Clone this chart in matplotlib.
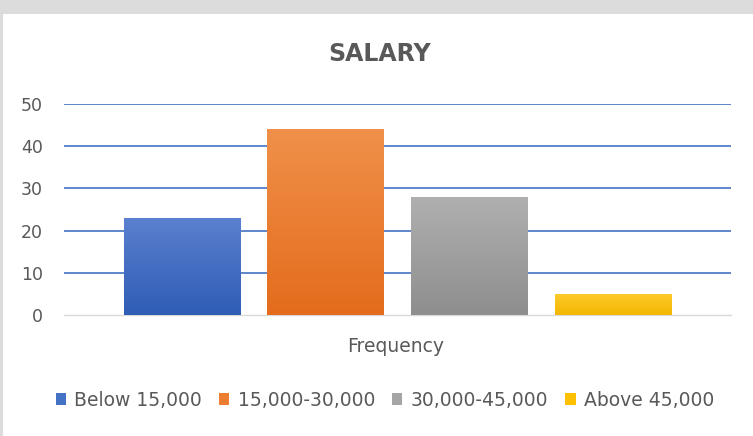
import numpy as np
import matplotlib
matplotlib.use("Agg")
import matplotlib.pyplot as plt
from matplotlib.patches import Patch, Rectangle
from matplotlib.colors import LinearSegmentedColormap

# data
categories = ["Below 15,000", "15,000-30,000", "30,000-45,000", "Above 45,000"]
values = [23, 44, 28, 5]
top_colors = ["#5B80CF", "#F0904A", "#B0B0B0", "#FFCB2E"]
bottom_colors = ["#2F5DB5", "#E46C1C", "#8E8E8E", "#F2B700"]
legend_colors = ["#4472C4", "#ED7D31", "#A5A5A5", "#FFC000"]
yticks = [0, 10, 20, 30, 40, 50]

plt.rcParams["font.family"] = ["DejaVu Sans"]

fig = plt.figure(figsize=(7.53, 4.36), dpi=100)
fig.patch.set_facecolor("white")

# gray frame bits (top band, left strip) like the screenshot
fig.patches.append(Rectangle((0, 1 - 14 / 436), 1, 14 / 436, transform=fig.transFigure,
                             facecolor="#DCDCDC", edgecolor="none", zorder=0))
fig.patches.append(Rectangle((0, 0), 3 / 753, 1, transform=fig.transFigure,
                             facecolor="#DCDCDC", edgecolor="none", zorder=0))

ax = fig.add_axes([64 / 753, 1 - 315 / 436, (731 - 64) / 753, (315 - 104) / 436])

x = np.arange(len(values))
width = 0.81
bars = ax.bar(x, values, width=width, color=legend_colors, zorder=3)

# vertical gradient fill on each bar
grad = np.linspace(0, 1, 256).reshape(-1, 1)
for bar, c_top, c_bot in zip(bars, top_colors, bottom_colors):
    cmap = LinearSegmentedColormap.from_list("g", [c_bot, c_top])
    x0, y0 = bar.get_x(), bar.get_y()
    w, h = bar.get_width(), bar.get_height()
    im = ax.imshow(grad, cmap=cmap, aspect="auto", origin="lower",
                   extent=[x0, x0 + w, y0, y0 + h], zorder=4)
    im.set_clip_path(bar)

ax.set_xlim(-0.82, 3.82)
ax.set_ylim(0, 50)
ax.set_yticks(yticks)
ax.set_yticklabels([str(t) for t in yticks])
ax.set_xticks([])

for t in yticks[1:]:
    ax.axhline(t, color="#4472C4", linewidth=1.2, zorder=1)

for side in ["top", "right", "left"]:
    ax.spines[side].set_visible(False)
ax.spines["bottom"].set_color("#D9D9D9")
ax.spines["bottom"].set_linewidth(1.0)

ax.tick_params(axis="y", length=0, pad=15, labelsize=12.5, labelcolor="#595959")

fig.text(380 / 753, 1 - 54 / 436, "SALARY", ha="center", va="center",
         fontsize=17, fontweight="bold", color="#595959")
fig.text(396 / 753, 1 - 346 / 436, "Frequency", ha="center", va="center",
         fontsize=13.5, color="#595959")

handles = [Patch(facecolor=c, edgecolor="none") for c in legend_colors]
leg = fig.legend(handles, categories, loc="center", ncol=4,
                 bbox_to_anchor=(385 / 753, 1 - 400 / 436), frameon=False,
                 handlelength=0.55, handleheight=0.55, handletextpad=0.45,
                 columnspacing=0.9, fontsize=13.5)
for t in leg.get_texts():
    t.set_color("#595959")

fig.savefig("out.png", dpi=100)
